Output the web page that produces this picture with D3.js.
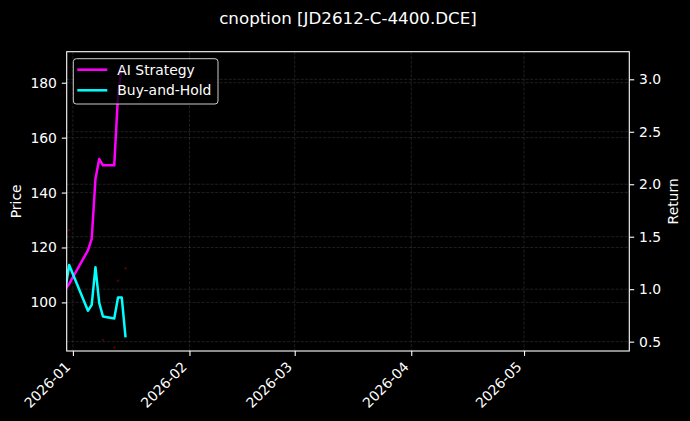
<!DOCTYPE html>
<html>
<head>
<meta charset="utf-8">
<script src="https://cdn.jsdelivr.net/npm/d3@7"></script>
<style>
  html, body { margin: 0; padding: 0; background: #000; }
  svg { display: block; font-family: "DejaVu Sans", sans-serif; }
</style>
</head>
<body>
<script>
// data
const dates = ["2025-12-30", "2025-12-31", "2026-01-05", "2026-01-06", "2026-01-07",
               "2026-01-08", "2026-01-09", "2026-01-12", "2026-01-13", "2026-01-14", "2026-01-15"];
const aiReturn   = [1.00, 1.05, 1.37, 1.48, 2.05, 2.24, 2.18, 2.18, 2.85, 3.13, null];
const holdReturn = [1.00, 1.23, 0.795, 0.85, 1.21, 0.87, 0.74, 0.72, 0.92, 0.92, 0.54];
// faint red signal dots on the price axis
const signalDates  = ["2025-12-31", "2026-01-09", "2026-01-12", "2026-01-13", "2026-01-15"];
const signalPrices = [126.3, 86.3, 83.6, 107.9, 112.4];

const priceTicks  = [100, 120, 140, 160, 180];
const returnTicks = [0.5, 1.0, 1.5, 2.0, 2.5, 3.0];
const monthTicks  = ["2026-01-01", "2026-02-01", "2026-03-01", "2026-04-01", "2026-05-01"];

const W = 690, H = 421;
const margin = {top: 51.7, right: 60.7, bottom: 70, left: 66.7};
const width = W - margin.left - margin.right,
      height = H - margin.top - margin.bottom;

const parse = d3.utcParse("%Y-%m-%d");

const svg = d3.select("body").append("svg")
  .attr("width", W).attr("height", H);
svg.append("rect").attr("width", W).attr("height", H).attr("fill", "#000");

const g = svg.append("g")
  .attr("transform", "translate(" + margin.left + "," + margin.top + ")");

let x = d3.scaleUtc()
  .domain([new Date(Date.UTC(2025, 11, 30, 8, 24)), new Date(Date.UTC(2026, 4, 29))])
  .range([0, width]);
let yPrice = d3.scaleLinear().domain([82.3, 191.3]).range([height, 0]);
let yRet = d3.scaleLinear().domain([0.411, 3.263]).range([height, 0]);

// grids
const grid = g.append("g").attr("class", "grid")
  .attr("stroke", "#808080").attr("stroke-opacity", 0.35)
  .attr("stroke-width", 0.7).attr("stroke-dasharray", "3,1.5");
grid.selectAll(".gx").data(monthTicks).enter().append("line")
  .attr("x1", d => x(parse(d))).attr("x2", d => x(parse(d)))
  .attr("y1", 0).attr("y2", height);
grid.selectAll(".gp").data(priceTicks).enter().append("line")
  .attr("x1", 0).attr("x2", width)
  .attr("y1", d => yPrice(d)).attr("y2", d => yPrice(d));
grid.selectAll(".gr").data(returnTicks).enter().append("line")
  .attr("x1", 0).attr("x2", width)
  .attr("y1", d => yRet(d)).attr("y2", d => yRet(d));

g.append("clipPath").attr("id", "plotclip")
  .append("rect").attr("width", width).attr("height", height);
const plot = g.append("g").attr("clip-path", "url(#plotclip)");

// signal dots
plot.selectAll(".sig").data(signalDates).enter().append("circle")
  .attr("cx", d => x(parse(d)))
  .attr("cy", (d, i) => yPrice(signalPrices[i]))
  .attr("r", 1.3)
  .attr("fill", "#ff0000").attr("fill-opacity", 0.3);

const rows = dates.map((d, i) => ({date: parse(d), ai: aiReturn[i], hold: holdReturn[i]}));

const aiLine = d3.line()
  .defined(d => d.ai != null)
  .x(d => x(d.date)).y(d => yRet(d.ai));
const holdLine = d3.line()
  .defined(d => d.hold != null)
  .x(d => x(d.date)).y(d => yRet(d.hold));

plot.append("path").datum(rows)
  .attr("d", aiLine).attr("fill", "none")
  .attr("stroke", "#ff00ff").attr("stroke-width", 2.5)
  .attr("stroke-linejoin", "round");
plot.append("path").datum(rows)
  .attr("d", holdLine).attr("fill", "none")
  .attr("stroke", "#00ffff").attr("stroke-width", 2.5)
  .attr("stroke-linejoin", "round");

// axes
const fs = "13.9px";
const xAxis = g.append("g")
  .attr("transform", "translate(0," + height + ")")
  .call(d3.axisBottom(x).tickValues(monthTicks.map(parse))
    .tickFormat(d3.utcFormat("%Y-%m")).tickSizeOuter(0).tickSize(4.9));
xAxis.selectAll("text")
  .attr("y", 0).attr("dy", null)
  .attr("transform", "translate(-2.1,16.8) rotate(-45)")
  .style("text-anchor", "end")
  .attr("dominant-baseline", "alphabetic");

const yAxisL = g.append("g")
  .call(d3.axisLeft(yPrice).tickValues(priceTicks).tickSizeOuter(0).tickSize(4.9).tickPadding(4.9));
const yAxisR = g.append("g")
  .attr("transform", "translate(" + width + ",0)")
  .call(d3.axisRight(yRet).tickValues(returnTicks).tickFormat(d3.format(".1f"))
    .tickSizeOuter(0).tickSize(4.9).tickPadding(4.9));

[xAxis, yAxisL, yAxisR].forEach(a => {
  a.select(".domain").remove();
  a.selectAll("line").attr("stroke", "#fff").attr("stroke-width", 1.1);
  a.selectAll("text").attr("fill", "#fff").style("font-size", fs)
    .style("font-family", "DejaVu Sans");
});

// frame
g.append("rect").attr("width", width).attr("height", height)
  .attr("fill", "none").attr("stroke", "#fff").attr("stroke-width", 1.1);

// labels
svg.append("text")
  .attr("x", margin.left + width / 2).attr("y", 23.5)
  .attr("text-anchor", "middle").attr("fill", "#fff")
  .style("font-size", "16.7px")
  .text("cnoption [JD2612-C-4400.DCE]");
svg.append("text")
  .attr("transform", "translate(21," + (margin.top + height / 2) + ") rotate(-90)")
  .attr("text-anchor", "middle").attr("fill", "#fff")
  .style("font-size", fs).text("Price");
svg.append("text")
  .attr("transform", "translate(677.5," + (margin.top + height / 2) + ") rotate(-90)")
  .attr("text-anchor", "middle").attr("fill", "#fff")
  .style("font-size", fs).text("Return");

// legend
const legendItems = [{label: "AI Strategy", color: "#ff00ff"}, {label: "Buy-and-Hold", color: "#00ffff"}];
const lg = g.append("g").attr("transform", "translate(6.6,7)");
lg.append("rect").attr("width", 144.7).attr("height", 45.3)
  .attr("rx", 3).attr("fill", "#000").attr("fill-opacity", 0.8)
  .attr("stroke", "#cccccc").attr("stroke-width", 1);
legendItems.forEach((d, i) => {
  const row = lg.append("g").attr("transform", "translate(0," + (11 + i * 20.6) + ")");
  row.append("line").attr("x1", 4).attr("x2", 34)
    .attr("stroke", d.color).attr("stroke-width", 2.5);
  row.append("text").attr("x", 44).attr("dy", "0.35em")
    .attr("fill", "#fff").style("font-size", fs).text(d.label);
});
</script>
</body>
</html>
